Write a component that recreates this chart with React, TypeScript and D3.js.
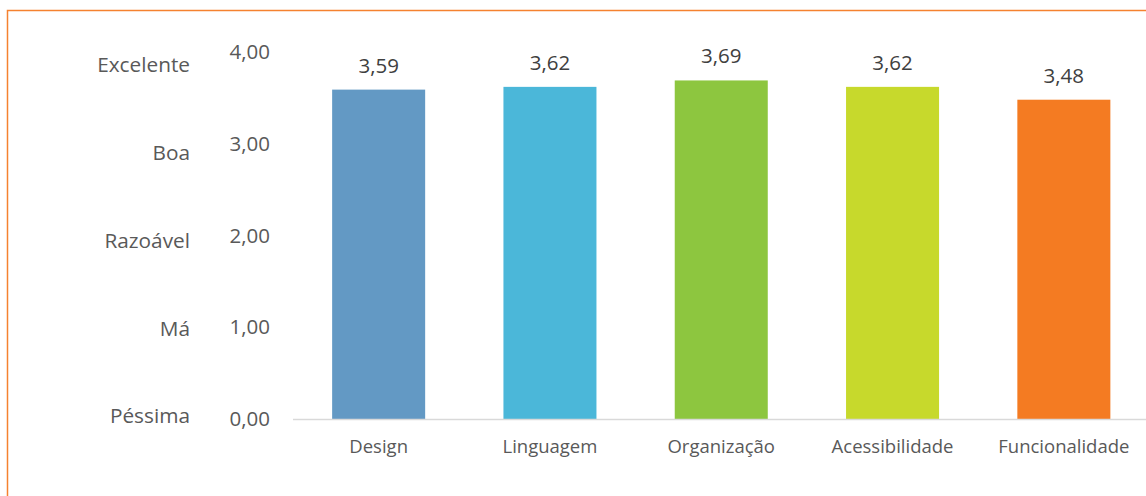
import React from "react";
import * as d3 from "d3";

const categories = ["Design", "Linguagem", "Organização", "Acessibilidade", "Funcionalidade"];
const values = [3.59, 3.62, 3.69, 3.62, 3.48];
const barColors = ["#6399C4", "#4BB7D9", "#8DC63F", "#C7D92C", "#F47B22"];
const yTicks = [0, 1, 2, 3, 4];
const ratingLabels = ["Péssima", "Má", "Razoável", "Boa", "Excelente"];

const W = 1146;
const H = 496;
const fmt = (v: number) => v.toFixed(2).replace(".", ",");

export default function App() {
  const x = d3.scaleBand<string>().domain(categories).range([293, 1149.5]).paddingInner(0.457).paddingOuter(0.2285);
  const y = d3.scaleLinear().domain([0, 4]).range([419, 52]);
  const yRating = d3.scaleLinear().domain([0, 4]).range([416, 65]);
  const font = "'Open Sans', 'DejaVu Sans', sans-serif";
  return (
    <svg width={W} height={H} style={{ position: "absolute", left: 0, top: 0 }} fontFamily={font}>
      <rect x={0} y={0} width={W} height={H} fill="#fff" />
      <rect x={7.5} y={10.5} width={W + 10} height={H + 10} fill="none" stroke="#F58230" strokeWidth={1.5} />
      {categories.map((c, i) => (
        <rect key={c} x={x(c)} y={y(values[i])} width={x.bandwidth()} height={y(0) - y(values[i])} fill={barColors[i]} />
      ))}
      <line x1={293} x2={W} y1={y(0) + 0.5} y2={y(0) + 0.5} stroke="#D9D9D9" strokeWidth={1.5} />
      {yTicks.map((t) => (
        <text key={t} x={270} y={y(t)} dy="0.35em" textAnchor="end" fontSize={20.5} fill="#595959">
          {fmt(t)}
        </text>
      ))}
      {ratingLabels.map((r, i) => (
        <text key={r} x={190} y={yRating(i)} dy="0.35em" textAnchor="end" fontSize={20.8} fill="#595959">
          {r}
        </text>
      ))}
      {categories.map((c, i) => (
        <text key={c} x={(x(c) as number) + x.bandwidth() / 2} y={y(values[i]) - 17} textAnchor="middle" fontSize={20.5} fill="#404040">
          {fmt(values[i])}
        </text>
      ))}
      {categories.map((c) => (
        <text key={c} x={(x(c) as number) + x.bandwidth() / 2} y={447} dy="0.35em" textAnchor="middle" fontSize={18.5} fill="#595959">
          {c}
        </text>
      ))}
    </svg>
  );
}
